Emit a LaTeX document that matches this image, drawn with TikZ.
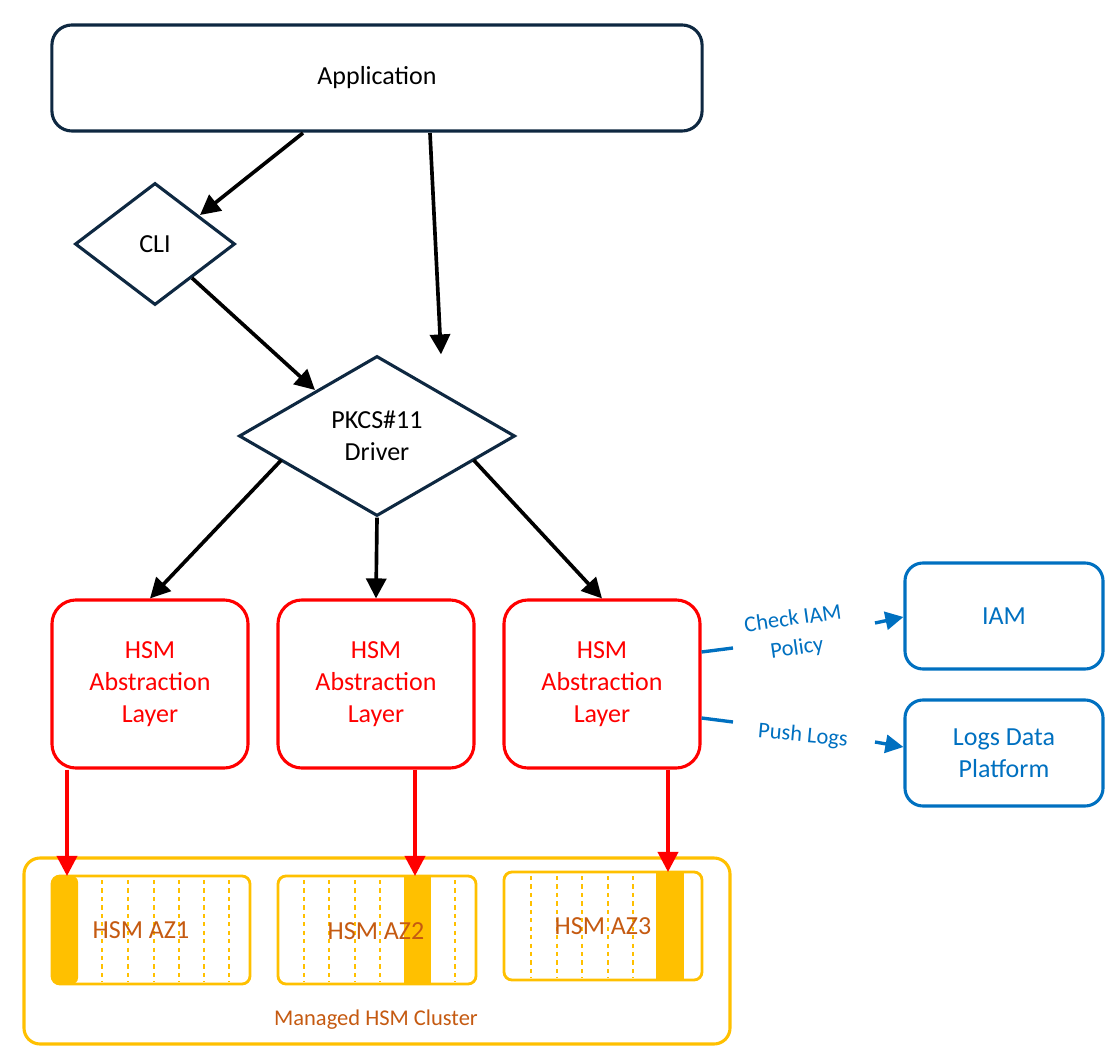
\documentclass[tikz,border=0pt]{standalone}
\usepackage{fontspec}
\setmainfont{Carlito}
\usetikzlibrary{arrows.meta,shapes.geometric}
\definecolor{navy}{HTML}{0E2841}
\definecolor{hsmred}{HTML}{FF0000}
\definecolor{azblue}{HTML}{0070C0}
\definecolor{amber}{HTML}{FFC000}
\definecolor{rust}{HTML}{C55A11}
\newcommand{\bigtxt}{\fontsize{18.5}{23}\selectfont}
\newcommand{\midtxt}{\fontsize{16}{21}\selectfont}
\tikzset{
  box/.style={draw=navy, line width=2.2pt, rounded corners=0.5cm, align=center, font=\bigtxt},
  dia/.style={diamond, draw=navy, line width=2.2pt, align=center, font=\bigtxt, inner sep=0pt},
  layer/.style={draw=hsmred, line width=2.2pt, rounded corners=0.6cm, text=hsmred, align=center, font=\bigtxt},
  svc/.style={draw=azblue, line width=2.2pt, rounded corners=0.45cm, text=azblue, align=center, font=\bigtxt},
  flow/.style={line width=2.6pt, -{Triangle[length=0.5cm,width=0.5cm]}},
  redflow/.style={flow, draw=hsmred, fill=hsmred},
  blueflow/.style={line width=2.4pt, draw=azblue, -{Triangle[length=0.45cm,width=0.45cm]}},
  az/.style={draw=amber, line width=2pt, rounded corners=0.2cm},
  slot/.style={amber, dashed, line width=0.8pt},
}
\begin{document}
\begin{tikzpicture}[x=0.025cm,y=-0.025cm]
  \useasboundingbox (0,0) rectangle (1120,1064);

  % top level
  \node[box, minimum width=16.25cm, minimum height=2.65cm] (app) at (377,78) {Application};
  \node[dia, minimum width=4cm, minimum height=3.05cm] (cli) at (155,244) {CLI};
  \node[dia, minimum width=6.9cm, minimum height=4cm] (drv) at (377,436) {PKCS\#11\\Driver};

  % abstraction layers
  \foreach \n/\x in {hal1/150, hal2/376, hal3/602}
    \node[layer, minimum width=4.9cm, minimum height=4.2cm] (\n) at (\x,684) {HSM\\Abstraction\\Layer};

  % services
  \node[svc, minimum width=4.95cm, minimum height=2.65cm] (iam) at (1004,616) {IAM};
  \node[svc, minimum width=4.95cm, minimum height=2.65cm] (logs) at (1004,753) {Logs Data\\Platform};

  % cluster
  \draw[amber, line width=2.2pt, rounded corners=0.4cm] (24,858) rectangle (730,1044);
  \node[text=rust, font=\midtxt] (clus) at (376,1020) {Managed HSM Cluster};

  % HSM AZ1
  \foreach \x in {102,128,154,179,204,229} \draw[slot] (\x,880) -- (\x,982);
  \fill[amber, rounded corners=0.15cm] (52,876) rectangle (78,984);
  \draw[az] (52,876) rectangle (250,984);
  \node[text=rust, font=\bigtxt] (az1) at (141,930) {HSM AZ1};
  % HSM AZ2
  \foreach \x in {304,329,355,380,455} \draw[slot] (\x,880) -- (\x,982);
  \fill[amber] (404,876) rectangle (431,984);
  \draw[az] (278,876) rectangle (476,984);
  \node[text=rust, font=\bigtxt] (az2) at (376,931) {HSM AZ2};
  % HSM AZ3
  \foreach \x in {531,557,582,608,633} \draw[slot] (\x,876) -- (\x,978);
  \fill[amber] (656,872) rectangle (684,980);
  \draw[az] (504,872) rectangle (702,980);
  \node[text=rust, font=\bigtxt] (az3) at (603,926) {HSM AZ3};

  % black arrows
  \coordinate (a1) at (303,133);
  \coordinate (a2) at (430,133);
  \coordinate (c1) at (192,278);
  \draw[flow] (a1) -- (200,215);
  \draw[flow] (a2) -- (drv.north -| 441,0);
  \draw[flow] (c1) -- (315,390);
  \draw[flow] (drv.west) ++(44,24) -- (hal1.north);
  \draw[flow] (drv.south) -- (hal2.north);
  \draw[flow] (drv.east) ++(-43,24) -- (hal3.north);

  % red arrows
  \draw[redflow] (hal1.south -| 67,0) -- (67,876);
  \draw[redflow] (hal2.south -| 415,0) -- (415,876);
  \draw[redflow] (hal3.south -| 668,0) -- (668,872);

  % blue links
  \draw[azblue, line width=2.4pt] (hal3.east |- 0,652) -- (733,648);
  \draw[blueflow] (875,623) -- (iam.west |- 0,617);
  \node[text=azblue, align=center, rotate=8, font=\midtxt] (chk) at (795,634) {Check IAM\\Policy};
  \draw[azblue, line width=2.4pt] (hal3.east |- 0,718) -- (733,722);
  \draw[blueflow] (875,742) -- (logs.west |- 0,747);
  \node[text=azblue, rotate=-5, font=\midtxt] (push) at (803,736) {Push Logs};
\end{tikzpicture}
\end{document}
